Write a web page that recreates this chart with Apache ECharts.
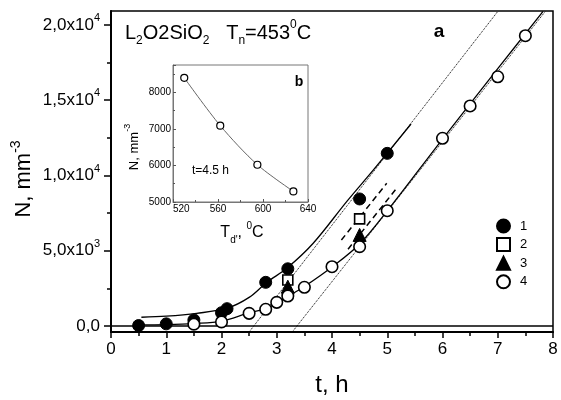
<!DOCTYPE html>
<html>
<head>
<meta charset="utf-8">
<script src="https://cdn.jsdelivr.net/npm/echarts@6/dist/echarts.min.js"></script>
<style>
  html, body { margin: 0; padding: 0; background: #fff; }
  #chart { width: 561px; height: 400px; }
</style>
</head>
<body>
<div id="chart"></div>
<script>
const FONT = 'Liberation Sans, Arial, sans-serif';

// (a) N vs t, four sample sets
const seriesNames = ['1', '2', '3', '4'];
const filledCircles = [[0.5, 30], [1.0, 140], [1.5, 400], [2.0, 880], [2.1, 1150], [2.8, 2900], [3.2, 3800], [4.5, 8440], [5.0, 11470]];
const openSquares = [[3.2, 3060], [4.5, 7120]];
const filledTriangles = [[3.2, 2610], [4.5, 6050]];
const openCircles = [[1.5, 120], [2.0, 270], [2.5, 840], [2.8, 1110], [3.0, 1570], [3.2, 1990], [3.5, 2570], [4.0, 3940], [4.5, 5270], [5.0, 7660], [6.0, 12470], [6.5, 14620], [7.0, 16560], [7.5, 19290]];

// fitted curves and guide lines
const upperCurve = [[0.55, 580], [1.0, 650], [1.55, 840], [2.1, 1180], [2.5, 1900], [2.82, 2900], [3.18, 3830], [3.66, 5500], [4.28, 8330], [4.75, 10370], [5.43, 13420]];
const lowerCurve = [[0.5, 70], [1.0, 90], [1.5, 160], [2.0, 320], [2.5, 880], [2.8, 1150], [3.0, 1520], [3.2, 1950], [3.5, 2620], [4.0, 3920], [4.5, 5450], [5.0, 7650], [6.0, 12420], [7.0, 17100], [7.82, 20900]];
const tangentUpper = [[2.5, -400], [7.0, 20900]];
const tangentLower = [[3.28, -400], [7.86, 20900]];
const dashedA = [[4.17, 5710], [4.99, 9480]];
const dashedB = [[4.29, 5100], [5.17, 9150]];
const zeroLine = [[0, 0], [8, 0]];

const yTickValues = [0, 5000, 10000, 15000, 20000];
const yTickMant = ['0,0', '5,0x10', '1,0x10', '1,5x10', '2,0x10'];
const yTickExp = ['', '3', '4', '4', '4'];
const yMinorTicks = [2500, 7500, 12500, 17500];

// (b) inset: N vs Td at t = 4.5 h
const insetTd = [530, 562, 595, 627];
const insetN = [8400, 7090, 6020, 5290];

const chart = echarts.init(document.getElementById('chart'), null, { renderer: 'canvas' });

const black = '#000';
const tickStyle = { color: black, width: 1.5 };

function guide(name, data, type, width) {
  return {
    name, type: 'line', data, xAxisIndex: 0, yAxisIndex: 0,
    showSymbol: false, silent: true, z: 2,
    lineStyle: { color: black, width, type }
  };
}

function text(x, y, t, size, extra) {
  return Object.assign({
    type: 'text', x, y, silent: true,
    style: Object.assign({
      text: t, fill: black,
      font: size + 'px ' + FONT,
      fontSize: size, fontFamily: FONT,
      align: 'left', verticalAlign: 'middle',
      textAlign: 'left', textVerticalAlign: 'middle'
    }, extra || {})
  });
}

function richFor(size, small) {
  return {
    m: { fontSize: size, fontFamily: FONT, color: black, lineHeight: size + 8 },
    sub: { fontSize: small, fontFamily: FONT, color: black, lineHeight: small, verticalAlign: 'bottom' },
    sup: { fontSize: small, fontFamily: FONT, color: black, lineHeight: small, verticalAlign: 'top' }
  };
}

const option = {
  animation: false,
  backgroundColor: '#fff',
  textStyle: { fontFamily: FONT },
  grid: [
    { left: 111, top: 11, right: 8, bottom: 68, show: true, borderColor: black, borderWidth: 1.5 },
    { left: 173, top: 65, width: 135, height: 137, show: true, borderColor: '#777', borderWidth: 1, backgroundColor: 'transparent' }
  ],
  xAxis: [
    {
      gridIndex: 0, type: 'value', min: 0, max: 8, interval: 1,
      axisLine: { show: true, onZero: false, lineStyle: { color: black, width: 2 } },
      axisTick: { show: true, length: 6, lineStyle: tickStyle },
      minorTick: { show: true, splitNumber: 2, length: 4, lineStyle: tickStyle },
      splitLine: { show: false },
      axisLabel: { fontSize: 17, color: black, margin: 9, fontFamily: FONT }
    },
    {
      gridIndex: 1, type: 'value', min: 520, max: 640, interval: 40,
      axisLine: { show: true, onZero: false, lineStyle: { color: '#777', width: 1 } },
      axisTick: { show: true, inside: true, length: 3, lineStyle: { color: '#555' } },
      minorTick: { show: true, splitNumber: 2, length: 2, lineStyle: { color: '#555' } },
      splitLine: { show: false },
      axisLabel: { fontSize: 10, color: black, margin: 2, fontFamily: FONT, alignMinLabel: 'left', formatter: v => String(v) }
    }
  ],
  yAxis: [
    {
      gridIndex: 0, type: 'value', min: -400, max: 20930,
      axisLine: { show: true, onZero: false, lineStyle: { color: black, width: 2 } },
      axisTick: { show: true, length: 7, customValues: yTickValues, lineStyle: tickStyle },
      splitLine: { show: false },
      axisLabel: {
        customValues: yTickValues, margin: 11,
        formatter: v => {
          const i = yTickValues.indexOf(v);
          if (i < 0) return '';
          return '{m|' + yTickMant[i] + '}' + (yTickExp[i] ? '{sup|' + yTickExp[i] + '}' : '');
        },
        rich: richFor(17, 11)
      }
    },
    {
      gridIndex: 0, type: 'value', min: -400, max: 20930, position: 'left', offset: 0,
      axisLine: { show: false },
      axisTick: { show: true, length: 4, customValues: yMinorTicks, lineStyle: tickStyle },
      axisLabel: { show: false },
      splitLine: { show: false }
    },
    {
      gridIndex: 1, type: 'value', min: 5000, max: 8750, interval: 1000,
      axisLine: { show: true, onZero: false, lineStyle: { color: '#777', width: 1 } },
      axisTick: { show: true, inside: true, length: 3, lineStyle: { color: '#555' } },
      minorTick: { show: true, splitNumber: 2, length: 2, lineStyle: { color: '#555' } },
      splitLine: { show: false },
      axisLabel: {
        fontSize: 10, color: black, margin: 2, fontFamily: FONT, showMaxLabel: false,
        formatter: v => (v % 1000 === 0 ? String(v) : '')
      }
    }
  ],
  legend: {
    data: seriesNames,
    orient: 'vertical',
    left: 496, top: 218.5,
    padding: 0,
    itemGap: 3.6,
    itemWidth: 13, itemHeight: 13,
    textStyle: { fontSize: 13, color: black, fontFamily: FONT, lineHeight: 13, padding: [0, 0, 0, 5] }
  },
  series: [
    guide('zero', zeroLine, 'solid', 1.5),
    guide('tangent-upper', tangentUpper, 'dotted', 1),
    guide('tangent-lower', tangentLower, 'dotted', 1),
    guide('dashed-a', dashedA, [6, 4], 1.5),
    guide('dashed-b', dashedB, [6, 4], 1.5),
    Object.assign(guide('curve-1', upperCurve, 'solid', 1.3), { smooth: 0.35 }),
    Object.assign(guide('curve-4', lowerCurve, 'solid', 1.3), { smooth: 0.35 }),
    {
      name: '1', type: 'scatter', data: filledCircles, symbol: 'circle', symbolSize: 12, z: 5,
      itemStyle: { color: black, borderColor: black, borderWidth: 1, opacity: 1 }
    },
    {
      name: '2', type: 'scatter', data: openSquares, symbol: 'rect', symbolSize: 10, z: 5,
      itemStyle: { color: '#fff', borderColor: black, borderWidth: 1.6, opacity: 1 }
    },
    {
      name: '3', type: 'scatter', data: filledTriangles, symbol: 'triangle', symbolSize: 13, z: 5,
      itemStyle: { color: black, borderColor: black, borderWidth: 1, opacity: 1 }
    },
    {
      name: '4', type: 'scatter', data: openCircles, symbol: 'circle', symbolSize: 11.5, z: 6,
      itemStyle: { color: '#fff', borderColor: black, borderWidth: 1.6, opacity: 1 }
    },
    {
      name: 'inset', type: 'line', xAxisIndex: 1, yAxisIndex: 2,
      data: insetTd.map((t, i) => [t, insetN[i]]),
      smooth: 0.3, symbol: 'circle', symbolSize: 7, showSymbol: true, z: 4,
      lineStyle: { color: '#666', width: 1 },
      itemStyle: { color: '#fff', borderColor: black, borderWidth: 1.2, opacity: 1 }
    }
  ],
  graphic: [
    text(125, 33, '{m|L}{sub|2}{m|O2SiO}{sub|2}{m|   T}{sub|n}{m|=453}{sup|0}{m|C}', 20, { rich: richFor(20, 12) }),
    text(439, 32, 'a', 19, { font: 'bold 19px ' + FONT, fontWeight: 'bold', align: 'center', textAlign: 'center' }),
    text(299, 82, 'b', 14, { font: 'bold 14px ' + FONT, fontWeight: 'bold', align: 'center', textAlign: 'center' }),
    text(192, 171, 't=4.5 h', 12),
    text(242, 233, "{m|T}{sub|d'}{m|, }{sup|0}{m|C}", 16, { rich: richFor(16, 10), align: 'center', textAlign: 'center' }),
    Object.assign(text(134, 147, '{m|N, mm}{sup|-3}', 13, { rich: richFor(13, 9), align: 'center', textAlign: 'center' }), { rotation: Math.PI / 2 }),
    Object.assign(text(24, 179, '{m|N, mm}{sup|-3}', 22, { rich: richFor(22, 14), align: 'center', textAlign: 'center' }), { rotation: Math.PI / 2 }),
    text(332, 385, 't, h', 24, { align: 'center', textAlign: 'center' })
  ]
};

chart.setOption(option);
</script>
</body>
</html>
